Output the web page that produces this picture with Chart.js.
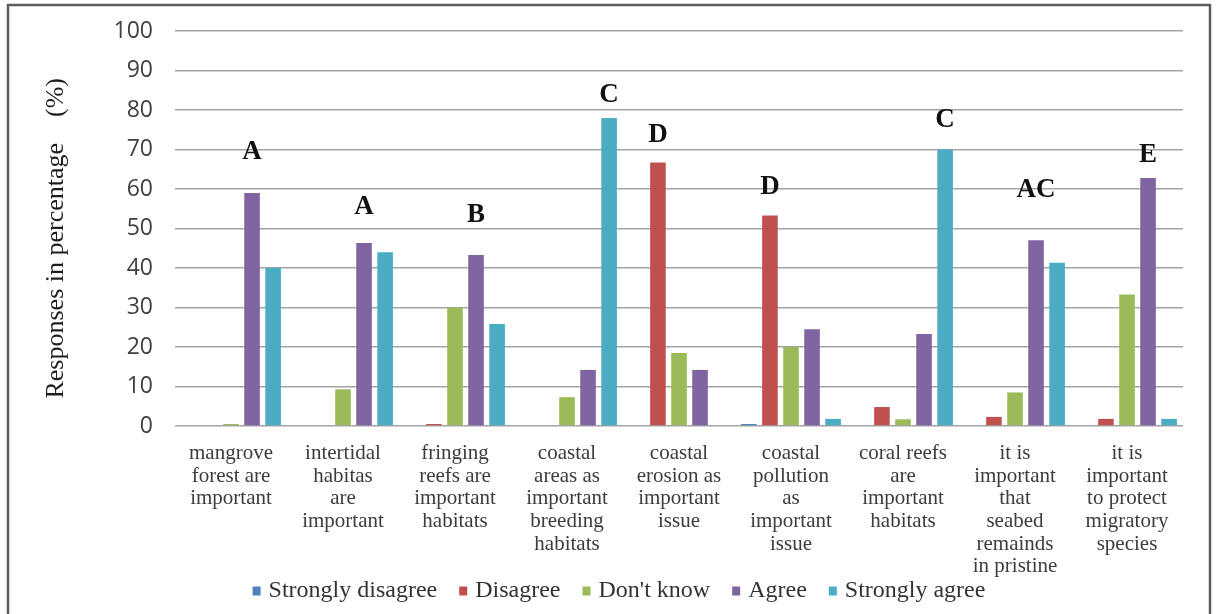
<!DOCTYPE html>
<html>
<head>
<meta charset="utf-8">
<script src="https://cdn.jsdelivr.net/npm/chart.js@4.4.1/dist/chart.umd.min.js"></script>
<style>
  html, body { margin: 0; padding: 0; background: #ffffff; }
  canvas { display: block; }
</style>
</head>
<body>
<canvas id="chart" width="1216" height="614"></canvas>
<script>
// Survey statements (wrapped into lines as printed under the axis)
const categories = [
  ["mangrove", "forest are", "important"],
  ["intertidal", "habitas", "are", "important"],
  ["fringing", "reefs are", "important", "habitats"],
  ["coastal", "areas as", "important", "breeding", "habitats"],
  ["coastal", "erosion as", "important", "issue"],
  ["coastal", "pollution", "as", "important", "issue"],
  ["coral reefs", "are", "important", "habitats"],
  ["it is", "important", "that", "seabed", "remainds", "in pristine"],
  ["it is", "important", "to protect", "migratory", "species"]
];

const seriesNames = ["Strongly disagree", "Disagree", "Don't know", "Agree", "Strongly agree"];

// Share of responses (%) per statement
const stronglyDisagree = [0, 0, 0, 0, 0, 0.5, 0, 0, 0];
const disagree         = [0, 0, 0.5, 0, 66.7, 53.3, 4.8, 2.3, 1.8];
const dontKnow         = [0.5, 9.3, 30, 7.3, 18.5, 20, 1.7, 8.5, 33.3];
const agree            = [59, 46.3, 43.3, 14.2, 14.2, 24.5, 23.3, 47, 62.8];
const stronglyAgree    = [40, 44, 25.8, 78, 0, 1.8, 70, 41.3, 1.8];

// Significance group letters shown above each statement
const groupLetters = ["A", "A", "B", "C", "D", "D", "C", "AC", "E"];

// Value axis ticks
const yTicks = [0, 10, 20, 30, 40, 50, 60, 70, 80, 90, 100];

const seriesColors = ["#4F81BD", "#C0504D", "#9BBB59", "#8064A2", "#4BACC6"];
const seriesValues = [stronglyDisagree, disagree, dontKnow, agree, stronglyAgree];

// Outer frame around the figure
const framePlugin = {
  id: "frame",
  beforeDraw(chart) {
    const ctx = chart.ctx;
    ctx.save();
    ctx.fillStyle = "#ffffff";
    ctx.fillRect(0, 0, chart.width, chart.height);
    ctx.strokeStyle = "#5c5c5c";
    ctx.lineWidth = 2.5;
    ctx.strokeRect(8, 5, 1202, 700);
    ctx.restore();
  }
};

// Letters drawn above the tallest bar of every statement
const lettersPlugin = {
  id: "groupLetters",
  afterDatasetsDraw(chart, args, opts) {
    const ctx = chart.ctx;
    ctx.save();
    ctx.font = opts.font;
    ctx.fillStyle = opts.color;
    ctx.textAlign = "center";
    ctx.textBaseline = "middle";
    chart.data.labels.forEach((_, i) => {
      let best = 0, bestVal = -Infinity;
      chart.data.datasets.forEach((ds, d) => {
        if (ds.data[i] > bestVal) { bestVal = ds.data[i]; best = d; }
      });
      const bar = chart.getDatasetMeta(best).data[i];
      ctx.fillText(groupLetters[i], bar.x, bar.y - opts.lift[i]);
    });
    ctx.restore();
  }
};

// One-row legend under the category labels
const legendPlugin = {
  id: "bottomLegend",
  afterDraw(chart, args, opts) {
    const ctx = chart.ctx;
    ctx.save();
    ctx.font = opts.font;
    ctx.textBaseline = "middle";
    ctx.textAlign = "left";
    const items = chart.data.datasets.map(ds => ({
      text: ds.label,
      color: ds.backgroundColor,
      w: ctx.measureText(ds.label).width
    }));
    const total = items.reduce((s, it) => s + opts.box + opts.gap + it.w, 0) + opts.spacing * (items.length - 1);
    let x = opts.centerX - total / 2;
    items.forEach(it => {
      ctx.fillStyle = it.color;
      ctx.fillRect(x, opts.y - opts.boxH / 2, opts.box, opts.boxH);
      x += opts.box + opts.gap;
      ctx.fillStyle = opts.color;
      ctx.fillText(it.text, x, opts.y);
      x += it.w + opts.spacing;
    });
    ctx.restore();
  }
};

new Chart(document.getElementById("chart"), {
  type: "bar",
  data: {
    labels: categories,
    datasets: seriesNames.map((name, k) => ({
      label: name,
      data: seriesValues[k],
      backgroundColor: seriesColors[k],
      borderWidth: 0,
      categoryPercentage: 0.94,
      barPercentage: 0.74
    }))
  },
  plugins: [framePlugin, lettersPlugin, legendPlugin],
  options: {
    responsive: false,
    animation: false,
    layout: { padding: { top: 31, right: 33, left: 0, bottom: 0 } },
    plugins: {
      tooltip: { enabled: false },
      legend: { display: false },
      bottomLegend: {
        font: "24px 'Liberation Serif', serif",
        color: "#333333",
        box: 8,
        boxH: 9,
        gap: 8,
        spacing: 22,
        centerX: 619,
        y: 591
      },
      groupLetters: {
        font: "bold 27px 'Liberation Serif', serif",
        color: "#111111",
        lift: [41, 36, 40, 23, 28, 28, 29, 50, 23]
      }
    },
    scales: {
      x: {
        grid: { display: false },
        border: { display: false },
        ticks: {
          autoSkip: false,
          maxRotation: 0,
          minRotation: 0,
          padding: 8,
          color: "#3c3c3c",
          font: { family: "'Liberation Serif', serif", size: 21, lineHeight: 1.08 }
        },
        afterFit(scale) { scale.height = 188; }
      },
      y: {
        min: 0,
        max: 100,
        afterBuildTicks(scale) { scale.ticks = yTicks.map(v => ({ value: v })); },
        grid: { color: "#a3a3a3", lineWidth: 1.5, drawTicks: false },
        border: { display: false },
        ticks: {
          padding: 22,
          color: "#404040",
          font: { family: "'Open Sans', sans-serif", size: 23 }
        },
        title: {
          display: true,
          text: "Responses in percentage    (%)   ",
          color: "#1e1e1e",
          font: { family: "'Liberation Serif', serif", size: 26 },
          padding: { top: 41, bottom: 0 }
        },
        afterFit(scale) {
          scale.width = 175;
          scale.paddingTop = 0;
        }
      }
    }
  }
});
</script>
</body>
</html>
